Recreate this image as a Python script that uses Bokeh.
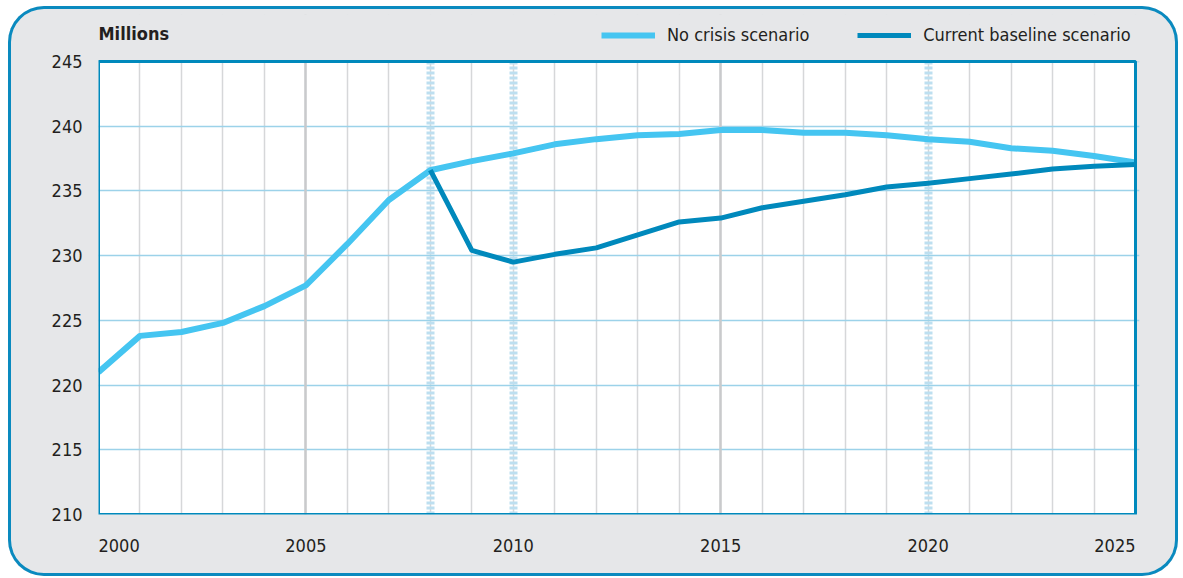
from bokeh.plotting import figure
from bokeh.models import Legend, LegendItem, Label, FixedTicker, Range1d, Grid
from bokeh.embed import file_html
from bokeh.resources import INLINE

# ---- data ----
years = list(range(2000, 2026))
no_crisis = [221.0, 223.8, 224.1, 224.8, 226.1, 227.7, 230.9, 234.3, 236.6, 237.3,
             237.9, 238.6, 239.0, 239.3, 239.4, 239.7, 239.7, 239.5, 239.5, 239.3,
             239.0, 238.8, 238.3, 238.1, 237.7, 237.2]
baseline_years = list(range(2008, 2026))
baseline = [236.6, 230.4, 229.5, 230.1, 230.6, 231.6, 232.6, 232.9, 233.7, 234.2,
            234.7, 235.3, 235.6, 235.95, 236.3, 236.7, 236.9, 237.05]
y_ticks = [210, 215, 220, 225, 230, 235, 240, 245]
x_label_years = [2000, 2005, 2010, 2015, 2020, 2025]
major_years = [2005, 2015]
highlight_years = [2008, 2010, 2020]
series_names = ["No crisis scenario", "Current baseline scenario"]
unit_label = "Millions"
x_min, x_max, y_min, y_max = 2000, 2025, 210, 245
x_view_max, y_view_max = 2025.096, 248.63

LIGHT = "#45C5F1"
DARK = "#0089BC"
PANEL = "#E6E7E9"
TEXT = "#231F20"
FONT = "DejaVu Sans Condensed"
FS = "18px"

p = figure(width=1170, height=570, output_backend="svg", toolbar_location=None,
           x_range=Range1d(x_min, x_view_max), y_range=Range1d(y_min, y_view_max),
           min_border_left=90, min_border_right=39, min_border_top=8, min_border_bottom=62,
           border_fill_color=None, background_fill_color=None, outline_line_color=None)
p.margin = (6, 0, 0, 8)
p.styles = {"background-color": PANEL, "border-radius": "36px",
            "box-shadow": "inset 0 0 0 3px #0A8ABF"}

# white plotting area
p.quad(left=[x_min], right=[x_max], bottom=[y_min], top=[y_max],
       fill_color="white", line_color=None, level="image")

# grids
p.xgrid.ticker = FixedTicker(ticks=years)
p.xgrid.grid_line_color = "#D6D7D9"
p.xgrid.grid_line_width = 1.5
p.ygrid.ticker = FixedTicker(ticks=y_ticks)
p.ygrid.grid_line_color = "#9CD2E9"
p.ygrid.grid_line_width = 1.5
p.ygrid.bounds = (x_min, x_max)

p.add_layout(Grid(dimension=0, ticker=FixedTicker(ticks=major_years),
                  grid_line_color="#C9CACC", grid_line_width=2.5))
p.add_layout(Grid(dimension=0, ticker=FixedTicker(ticks=highlight_years),
                  grid_line_color="#BDDFF0", grid_line_width=8, grid_line_dash="3 2"))

# header strip (keeps grid lines inside the plotting area)
p.quad(left=[x_min - 1], right=[x_view_max + 1], bottom=[y_max], top=[y_view_max + 1],
       fill_color=PANEL, line_color=None)

# axes
for ax in (p.xaxis[0], p.yaxis[0]):
    ax.axis_line_color = None
    ax.major_tick_line_color = None
    ax.minor_tick_line_color = None
    ax.major_label_text_font = FONT
    ax.major_label_text_font_size = FS
    ax.major_label_text_color = TEXT
p.yaxis.ticker = FixedTicker(ticks=y_ticks)
p.yaxis.major_label_standoff = 10
p.xaxis.ticker = FixedTicker(ticks=x_label_years)
p.xaxis.major_label_standoff = 14
fsp = "\u2007" * 4
p.xaxis.major_label_overrides = {x_label_years[0]: fsp + str(x_label_years[0]),
                                 x_label_years[-1]: str(x_label_years[-1]) + fsp}

# lines
r1 = p.line(years, no_crisis, line_color=LIGHT, line_width=6, line_join="round")
r2 = p.line(baseline_years, baseline, line_color=DARK, line_width=5, line_join="round")

# frame border
p.quad(left=[x_min], right=[x_max], bottom=[y_min], top=[y_max],
       fill_color=None, line_color=DARK, line_width=3)

# unit label
p.add_layout(Label(x=x_min, y=247.15, text=unit_label, text_align="left",
                   text_baseline="middle", text_font=FONT, text_font_style="bold",
                   text_font_size=FS, text_color=TEXT))

legend = Legend(items=[LegendItem(label=series_names[0], renderers=[r1]),
                       LegendItem(label=series_names[1], renderers=[r2])],
                orientation="horizontal", location=(503, 469),
                glyph_width=54, glyph_height=20, label_standoff=12, spacing=48,
                padding=0, margin=0, border_line_color=None, background_fill_color=None,
                label_text_font=FONT, label_text_font_size=FS, label_text_color=TEXT)
p.add_layout(legend, "center")

open("out.html", "w").write(file_html(p, INLINE))
